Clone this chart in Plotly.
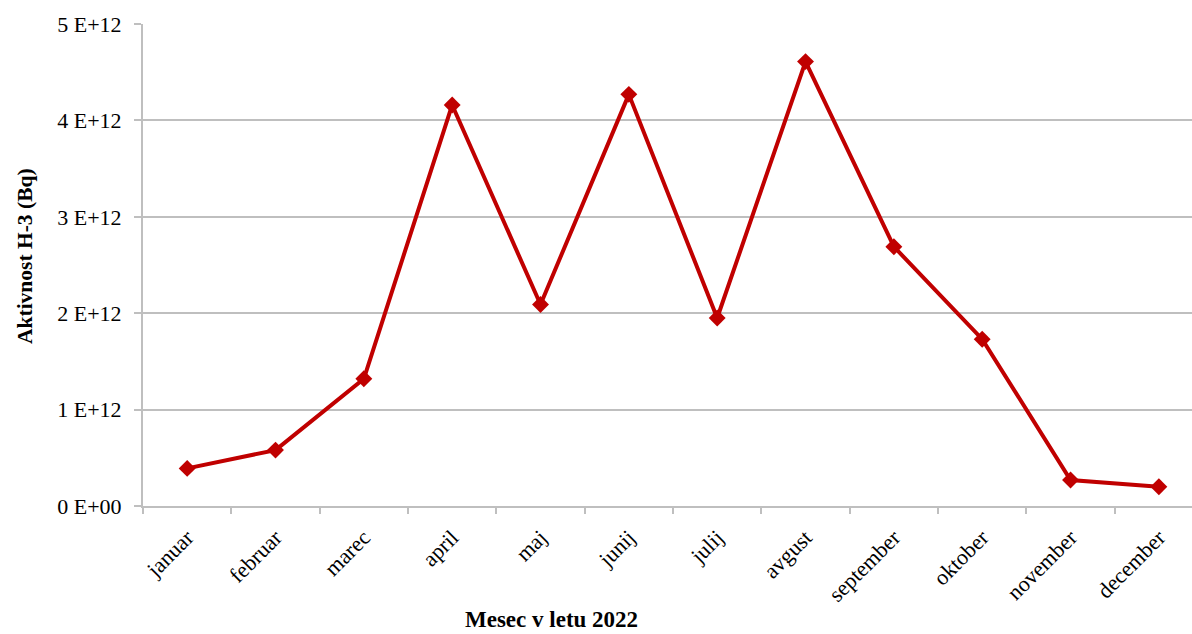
import plotly.graph_objects as go

# Monthly H-3 activity released in 2022
months = ["januar", "februar", "marec", "april", "maj", "junij", "julij",
          "avgust", "september", "oktober", "november", "december"]
activity_bq = [0.39e12, 0.58e12, 1.32e12, 4.16e12, 2.09e12, 4.27e12,
               1.95e12, 4.61e12, 2.69e12, 1.73e12, 0.27e12, 0.20e12]

y_tick_values = [0, 1e12, 2e12, 3e12, 4e12, 5e12]
y_tick_labels = ["0 E+00", "1 E+12", "2 E+12", "3 E+12", "4 E+12", "5 E+12"]

FONT = "Liberation Serif, Times New Roman, serif"
GRID = "#BFBFBF"
RED = "#C00000"

fig = go.Figure()
fig.add_trace(go.Scatter(
    x=months, y=activity_bq, mode="lines+markers",
    line=dict(color=RED, width=4),
    marker=dict(symbol="diamond", size=13, color=RED),
    showlegend=False, hoverinfo="x+y",
))

fig.update_layout(
    width=1192, height=634,
    margin=dict(l=143, r=0, t=24, b=128),
    paper_bgcolor="white", plot_bgcolor="white",
    font=dict(family=FONT, size=20, color="black"),
    xaxis=dict(
        type="category", range=[-0.5, 11.375],
        tickson="boundaries", ticks="outside", ticklen=6, tickwidth=2, tickcolor=GRID,
        tickangle=-45, tickfont=dict(family=FONT, size=22), ticklabelstandoff=8,
        showline=True, linecolor=GRID, linewidth=2,
        showgrid=False, zeroline=False,
    ),
    yaxis=dict(
        range=[0, 5e12], tickvals=y_tick_values, ticktext=y_tick_labels,
        ticks="outside", ticklen=7, tickwidth=2, tickcolor=GRID,
        tickfont=dict(family=FONT, size=22), ticklabelstandoff=8,
        showline=True, linecolor=GRID, linewidth=2,
        showgrid=True, gridcolor=GRID, gridwidth=1.5, zeroline=False,
    ),
    annotations=[
        dict(text="<b>Mesec v letu 2022</b>", xref="paper", yref="paper",
             x=(551 - 143) / (1192 - 143), y=-(634 - 506) / (506 - 24),
             showarrow=False, xanchor="center", yanchor="bottom",
             font=dict(family=FONT, size=23)),
        dict(text="<b>Aktivnost H-3 (Bq)</b>", xref="paper", yref="paper",
             x=-(143 - 25) / (1192 - 143), y=(506 - 256) / (506 - 24),
             textangle=-90, showarrow=False, xanchor="center", yanchor="middle",
             font=dict(family=FONT, size=21.5)),
    ],
)

fig.write_html("out.html")
